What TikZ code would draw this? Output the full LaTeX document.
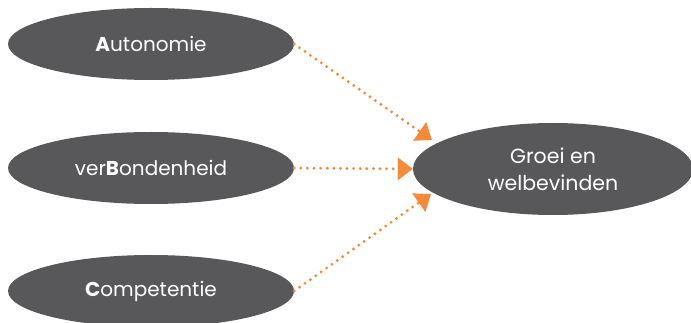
\documentclass[tikz,border=0pt]{standalone}
\usepackage{fontspec}
\setmainfont{Poppins}
\usetikzlibrary{shapes.geometric, arrows.meta, positioning}

\definecolor{bolgrijs}{HTML}{58585A}
\definecolor{pijloranje}{HTML}{F58A3B}

\begin{document}
\begin{tikzpicture}[
    x=1pt, y=-1pt,
    need/.style={ellipse, fill=bolgrijs, text=white, minimum width=286pt, minimum height=72pt, inner sep=0pt, font=\fontsize{20}{24}\selectfont},
    doel/.style={ellipse, fill=bolgrijs, text=white, minimum width=280pt, minimum height=92pt, inner sep=0pt, align=center, font=\fontsize{20.5}{27}\selectfont},
    link/.style={pijloranje, line width=3.2pt, line cap=round, dash pattern=on 0pt off 6.6pt, -{Triangle[length=15pt, width=22pt]}}
]
    \useasboundingbox (0,0) rectangle (691,323);

    % Basic needs
    \node[need] (autonomie) at (151,44) {\textbf{A}utonomie};
    \node[need] (verbonden) at (151,168) {ver\textbf{B}ondenheid};
    \node[need] (competentie) at (151,291) {\textbf{C}ompetentie};

    % Outcome
    \node[doel] (groei) at (553,169) {Groei en\\welbevinden};

    % Arrow tips
    \coordinate (tipA) at (432,140);
    \coordinate (tipC) at (431,194);

    % Relationships
    \draw[link] (autonomie.east) -- (tipA);
    \draw[link] (verbonden.east) -- (groei.west);
    \draw[link] (competentie.east) -- (tipC);
\end{tikzpicture}
\end{document}
